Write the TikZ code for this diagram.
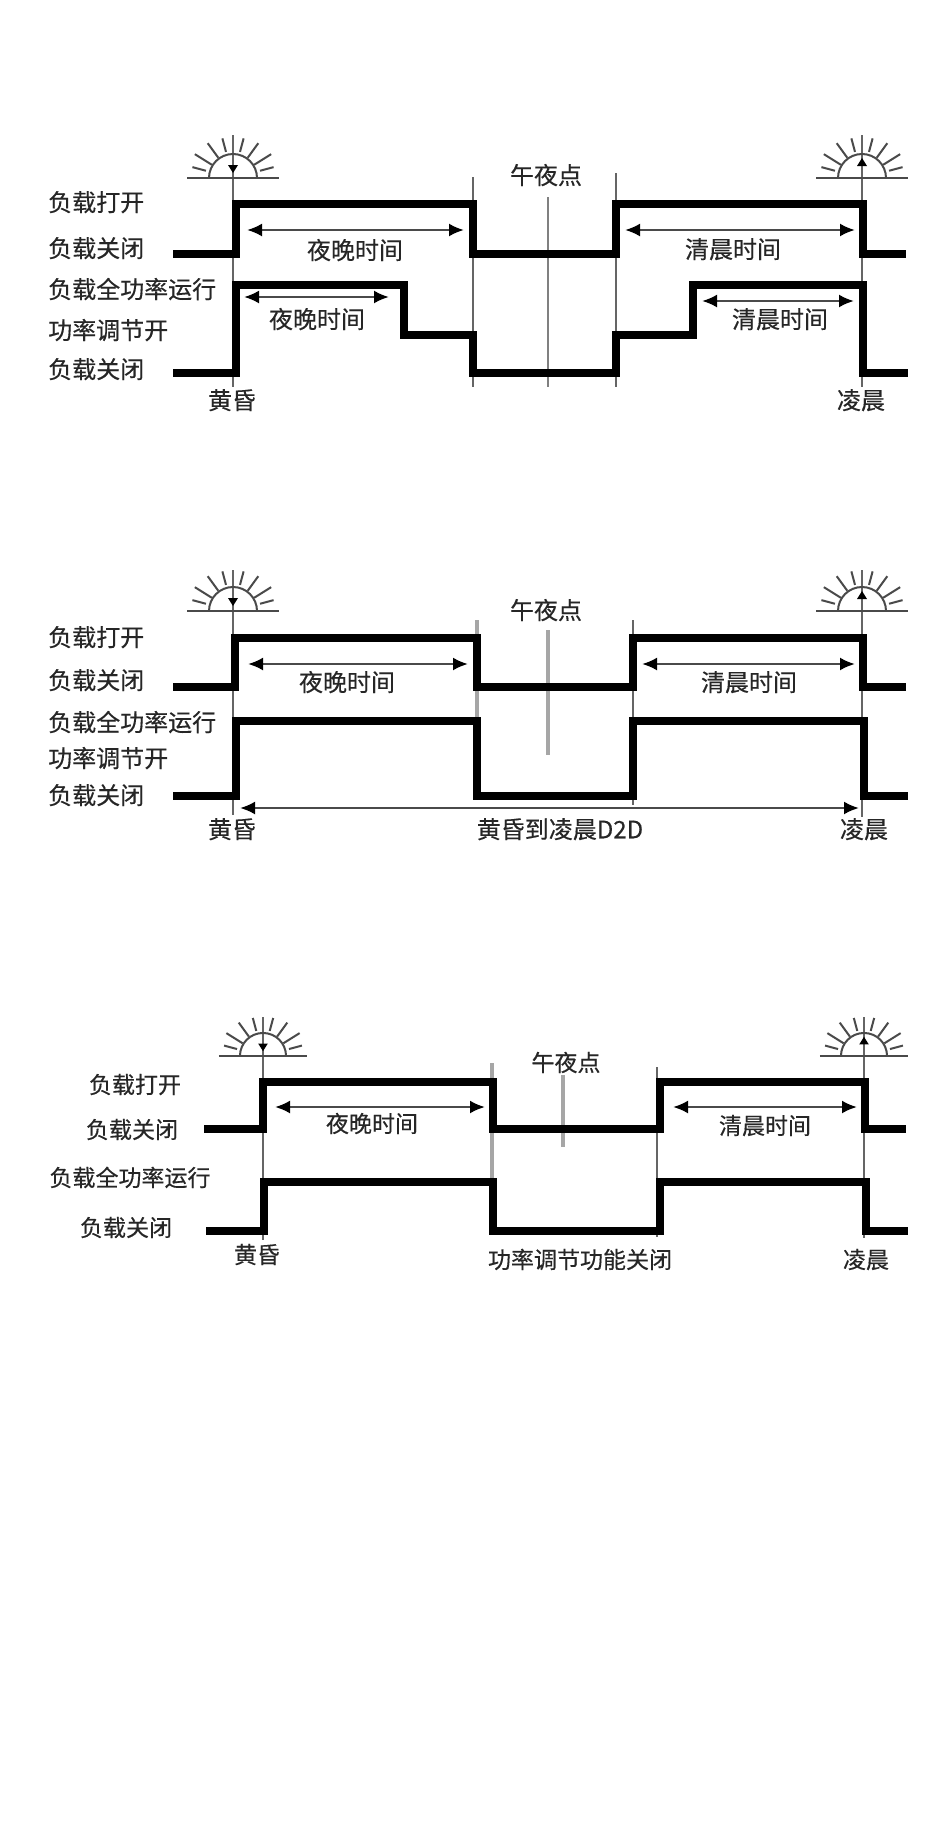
\documentclass[tikz,border=0pt]{standalone}
\usepackage{fontspec}
\setmainfont[FakeBold=0.35]{Noto Sans CJK SC}
\usetikzlibrary{arrows.meta}
\definecolor{ink}{HTML}{262626}
\definecolor{rule}{HTML}{4A4A4A}
\definecolor{softrule}{HTML}{A6A6A6}
\tikzset{
  wave/.style={line width=8.5pt,black,miter limit=10,line cap=butt},
  guide/.style={line width=1.6pt,rule!85},
  softguide/.style={line width=3.5pt,softrule},
  span/.style={line width=2.4pt,rule,{Latex[black,length=15pt,width=13pt]}-{Latex[black,length=15pt,width=13pt]}},
  lbl/.style={font=\fontsize{24pt}{24pt}\selectfont,text=ink,inner sep=0pt,text height=24pt,text depth=3.5pt},
  lblsm/.style={lbl,font=\fontsize{23pt}{23pt}\selectfont},
  lft/.style={lbl,anchor=west},
  sunline/.style={line width=2pt,rule},
}
% x, y of ground line, direction of tip (1 down, 0 up), scale
\newcommand{\sunmark}[4]{%
  \begin{scope}[shift={(#1,#2)},x=1pt,y=1pt,scale=#4]
    \draw[sunline,line width=2.4pt] (-46,0) -- (46,0);
    \draw[sunline] (-24,0) arc[start angle=180,end angle=0,radius=24];
    \foreach \a/\p/\q in {15/28/42,32/25/45,54/25/43,75/27/41,105/27/41,126/25/43,148/25/45,165/28/42}
      \draw[sunline] (\a:\p) -- (\a:\q);
    \ifnum#3=1
      \fill[black] (-5,13) -- (5,13) -- (0,5) -- cycle;
    \else
      \fill[black] (-5,12) -- (5,12) -- (0,20) -- cycle;
    \fi
  \end{scope}}
\newcommand{\spanarrow}[4]{% name, x1, x2, y
  \coordinate (#1a) at (#2,#4);
  \coordinate (#1b) at (#3,#4);
  \draw[span] (#1a) -- (#1b);}
\begin{document}
\begin{tikzpicture}[x=1pt,y=-1pt]
\useasboundingbox (0,0) rectangle (950,1823);
\fill[white] (0,0) rectangle (950,1823);

%% ---------- panel 1
\draw[guide] (233,135) -- (233,387);
\draw[guide] (473,177) -- (473,387);
\draw[guide] (616,173) -- (616,387);
\draw[guide,line width=2.5pt,rule!70] (548,197) -- (548,387);
\draw[guide] (862,135) -- (862,387);
\sunmark{233}{178}{1}{1}
\sunmark{862}{178}{0}{1}
\draw[wave] (173,254) -- (236,254) -- (236,204) -- (473,204) -- (473,254) -- (616,254) -- (616,204) -- (863,204) -- (863,254) -- (906,254);
\draw[wave] (173,373) -- (236,373) -- (236,285) -- (404,285) -- (404,335) -- (473,335) -- (473,373) -- (616,373) -- (616,335) -- (693,335) -- (693,285) -- (863,285) -- (863,373) -- (908,373);
\spanarrow{aA}{247}{464}{230}
\spanarrow{aB}{244}{389}{297}
\spanarrow{aC}{625}{855}{230}
\spanarrow{aD}{702}{854}{301}
\node[lbl] (aT1) at (355,249) {夜晚时间};
\node[lbl] (aT2) at (317,318) {夜晚时间};
\node[lbl] (aT3) at (733,248) {清晨时间};
\node[lbl] (aT4) at (780,318) {清晨时间};
\node[lbl] (aMid) at (546,174) {午夜点};
\node[lft] (aL1) at (48,201) {负载打开};
\node[lft] (aL2) at (48,247) {负载关闭};
\node[lft] (aL3) at (48,288) {负载全功率运行};
\node[lft] (aL4) at (48,329) {功率调节开};
\node[lft] (aL5) at (48,368) {负载关闭};
\node[lbl] (aDusk) at (232,399) {黄昏};
\node[lbl] (aDawn) at (861,399) {凌晨};

%% ---------- panel 2
\draw[guide] (233,570) -- (233,815);
\draw[softguide] (477,620) -- (477,800);
\draw[guide] (633,620) -- (633,805);
\draw[softguide] (548,630) -- (548,755);
\draw[guide] (862,570) -- (862,817);
\sunmark{233}{611}{1}{1}
\sunmark{862}{611}{0}{1}
\draw[wave] (173,687) -- (235,687) -- (235,638) -- (477,638) -- (477,687) -- (633,687) -- (633,638) -- (863,638) -- (863,687) -- (906,687);
\draw[wave] (173,796) -- (236,796) -- (236,721) -- (477,721) -- (477,796) -- (633,796) -- (633,721) -- (864,721) -- (864,796) -- (908,796);
\spanarrow{bA}{248}{468}{664}
\spanarrow{bB}{642}{855}{664}
\spanarrow{bC}{240}{859}{808}
\node[lbl] (bT1) at (347,681) {夜晚时间};
\node[lbl] (bT2) at (749,681) {清晨时间};
\node[lbl] (bMid) at (546,609) {午夜点};
\node[lft] (bL1) at (48,636) {负载打开};
\node[lft] (bL2) at (48,679) {负载关闭};
\node[lft] (bL3) at (48,721) {负载全功率运行};
\node[lft] (bL4) at (48,757) {功率调节开};
\node[lft] (bL5) at (48,794) {负载关闭};
\node[lbl] (bDusk) at (232,828) {黄昏};
\node[lbl] (bD2D) at (560,828) {黄昏到凌晨D2D};
\node[lbl] (bDawn) at (864,828) {凌晨};

%% ---------- panel 3
\draw[guide] (263,1017) -- (263,1240);
\draw[softguide] (492,1063) -- (492,1235);
\draw[guide] (657,1067) -- (657,1237);
\draw[softguide] (563,1075) -- (563,1147);
\draw[guide] (864,1017) -- (864,1238);
\sunmark{263}{1056}{1}{0.96}
\sunmark{864}{1056}{0}{0.96}
\draw[wave] (204,1129) -- (263,1129) -- (263,1082) -- (493,1082) -- (493,1129) -- (660,1129) -- (660,1082) -- (865,1082) -- (865,1129) -- (906,1129);
\draw[wave] (206,1231) -- (264,1231) -- (264,1182) -- (493,1182) -- (493,1231) -- (660,1231) -- (660,1182) -- (866,1182) -- (866,1231) -- (908,1231);
\spanarrow{cA}{275}{485}{1107}
\spanarrow{cB}{673}{857}{1107}
\node[lblsm] (cT1) at (372,1122) {夜晚时间};
\node[lblsm] (cT2) at (765,1124) {清晨时间};
\node[lblsm] (cMid) at (566,1061) {午夜点};
\node[lblsm] (cL1) at (135,1083) {负载打开};
\node[lblsm] (cL2) at (132,1128) {负载关闭};
\node[lblsm] (cL3) at (130,1176) {负载全功率运行};
\node[lblsm] (cL4) at (126,1226) {负载关闭};
\node[lblsm] (cDusk) at (257,1253) {黄昏};
\node[lblsm] (cOff) at (580,1258) {功率调节功能关闭};
\node[lblsm] (cDawn) at (866,1258) {凌晨};
\end{tikzpicture}
\end{document}
